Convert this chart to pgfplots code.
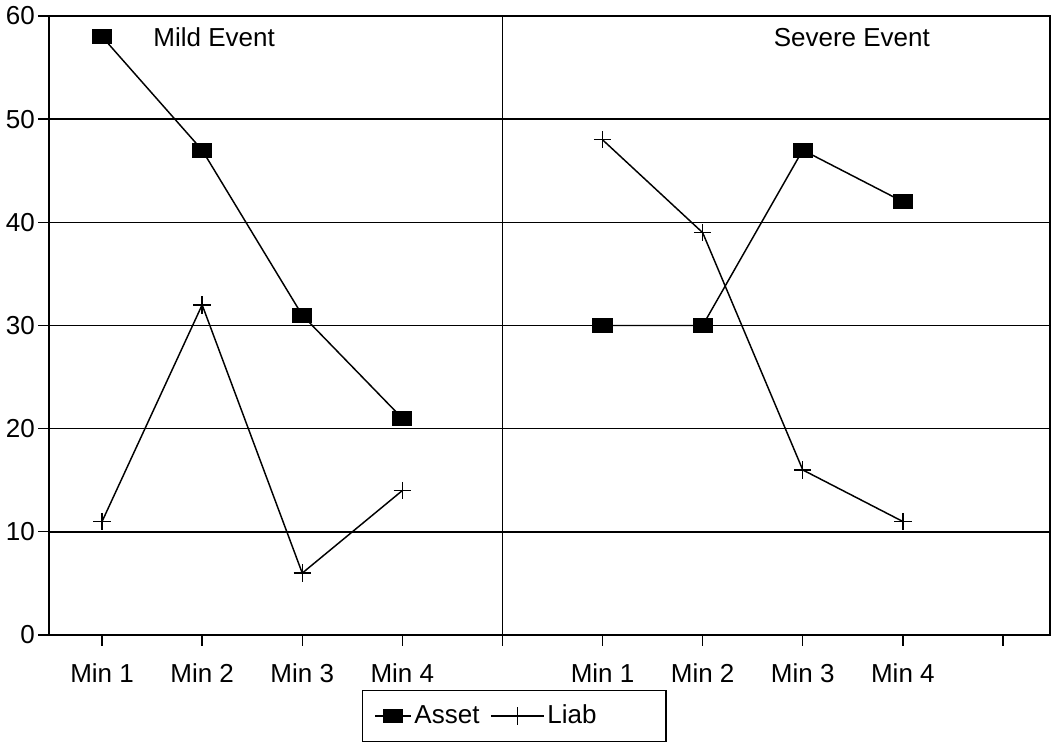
\documentclass[border=0pt]{standalone}
\usepackage{fontspec}
\setmainfont{Liberation Sans}
\usepackage{pgfplots}
\pgfplotsset{compat=1.18}
\newcommand{\cf}{\fontsize{19.5}{22}\selectfont}
\pgfplotsset{
  legshort/.style={legend image code/.code={\draw[mark repeat=2,mark phase=2,##1] plot coordinates {(0cm,0cm) (0.47cm,0cm) (0.94cm,0cm)};}},
  leglong/.style={legend image code/.code={\draw[mark repeat=2,mark phase=2,##1] plot coordinates {(0cm,0cm) (0.7cm,0cm) (1.4cm,0cm)};}},
}
\begin{document}
\cf
\begin{tikzpicture}
\begin{axis}[name=ax, scale only axis, width=750.75pt, height=464.25pt,
  xmin=0.47, xmax=10.47, ymin=0, ymax=60,
  xtick={1,2,3,4,5,6,7,8,9,10},
  xticklabels={Min 1,Min 2,Min 3,Min 4,,Min 1,Min 2,Min 3,Min 4,},
  ytick={0,10,20,30,40,50,60},
  ymajorgrids, grid style={black, line width=1.1pt},
  axis line style={black, line width=1.2pt},
  tick align=outside, tick pos=left,
  tick style={black, line width=1pt},
  major tick length=8pt,
  /pgf/number format/assume math mode=true,
  tick label style={font=\cf},
  xticklabel style={yshift=-7pt},
  yticklabel style={xshift=4pt},
  clip=false,
  legend columns=-1,
  legend style={at={(0.3127,-0.0889)}, anchor=north west, draw=black,
    line width=1pt, inner xsep=9pt, inner ysep=8.5pt, font=\cf,
    /tikz/every even column/.append style={column sep=6pt}},
]
\addplot[black, line width=1.1pt, mark=square*, mark size=5pt, mark options={xscale=1.4, solid, fill=black}, legshort]
  coordinates {(1,58) (2,47) (3,31) (4,21)};
\addlegendentry{Asset}
\addplot[black, line width=1.1pt, mark=+, mark size=6.5pt, mark options={solid, line width=1pt}, leglong]
  coordinates {(1,11) (2,32) (3,6) (4,14)};
\addlegendentry{\makebox[78pt][l]{Liab}}
\addplot[black, line width=1.1pt, mark=square*, mark size=5pt, mark options={xscale=1.4, solid, fill=black}, forget plot]
  coordinates {(6,30) (7,30) (8,47) (9,42)};
\addplot[black, line width=1.1pt, mark=+, mark size=6.5pt, mark options={solid, line width=1pt}, forget plot]
  coordinates {(6,48) (7,39) (8,16) (9,11)};
\draw[black, line width=1.3pt] (axis cs:5,0) -- (axis cs:5,60);
\node[font=\cf] at (axis cs:2.12,57.9) {Mild Event};
\node[font=\cf] at (axis cs:8.49,57.9) {Severe Event};
\end{axis}
\pgfresetboundingbox
\useasboundingbox ([shift={(-36.75pt,-87pt)}]ax.south west) rectangle ([shift={(1.5pt,12pt)}]ax.north east);
\end{tikzpicture}
\end{document}
